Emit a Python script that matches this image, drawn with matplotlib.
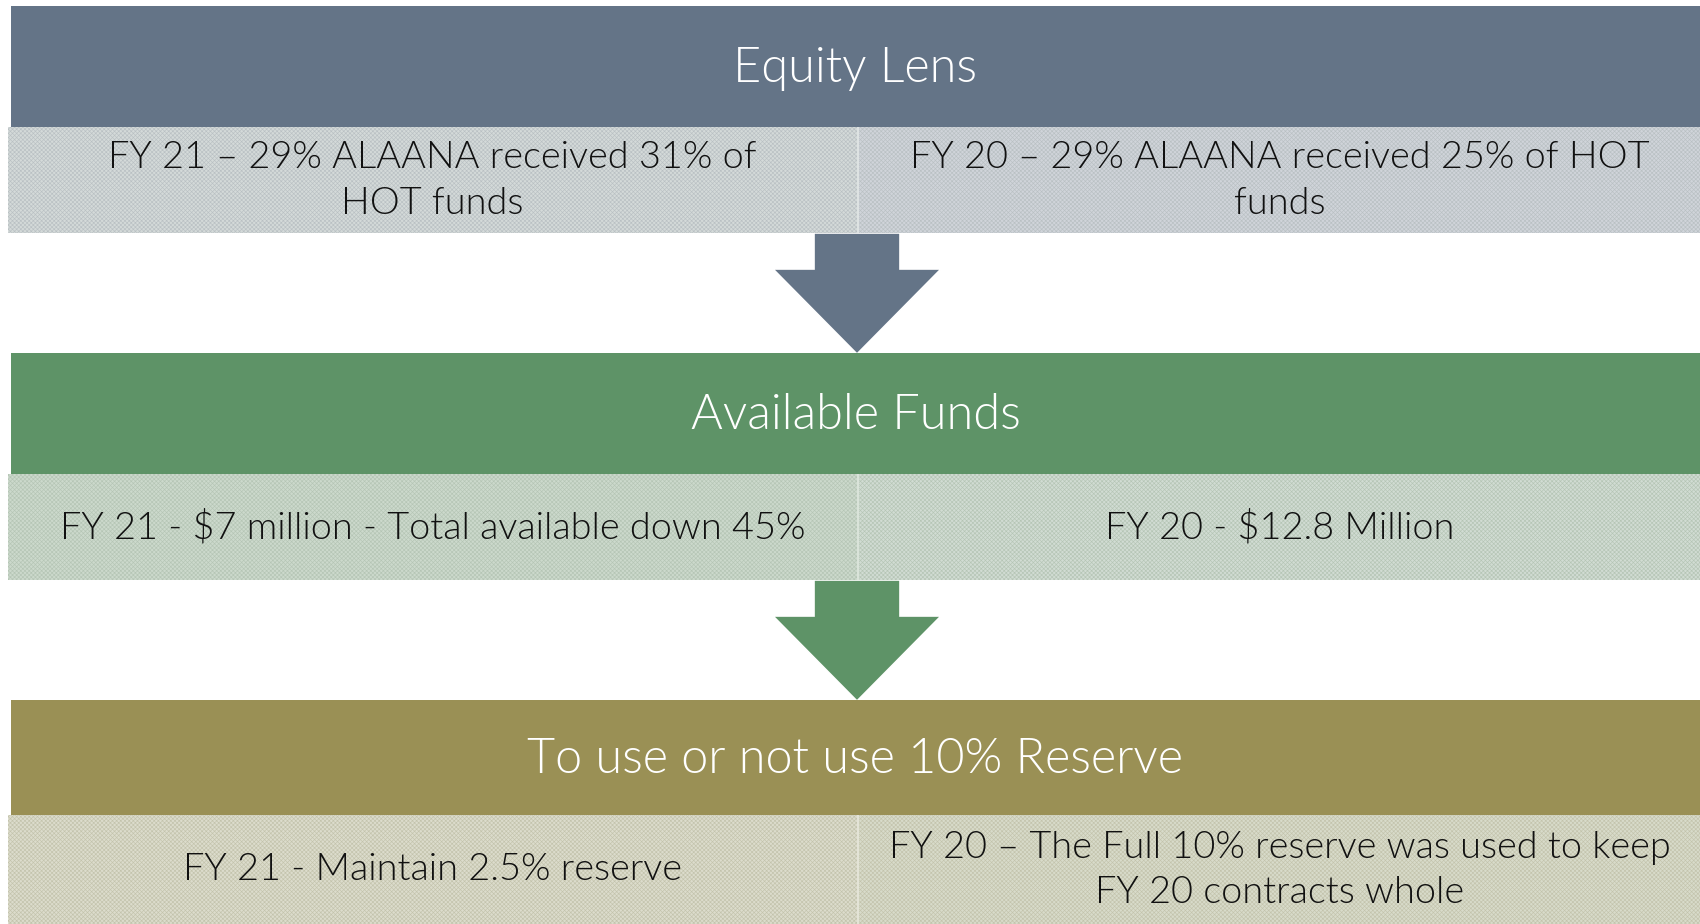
import matplotlib
matplotlib.use("Agg")
import matplotlib.pyplot as plt
from matplotlib.patches import Rectangle, Polygon

# ---- content ----
headers = ["Equity Lens", "Available Funds", "To use or not use 10% Reserve"]
left_texts = ["FY 21 \u2013 29% ALAANA received 31% of\nHOT funds",
              "FY 21 - $7 million - Total available down 45%",
              "FY 21 - Maintain 2.5% reserve"]
right_texts = ["FY 20 \u2013 29% ALAANA received 25% of HOT\nfunds",
               "FY 20 - $12.8 Million",
               "FY 20 \u2013 The Full 10% reserve was used to keep\nFY 20 contracts whole"]

# ---- styles ----
header_colors = ["#647487", "#5E9367", "#9A9055"]
left_fill = ["#D4DAD9", "#CCD9CC", "#DCDCCC"]
right_fill = ["#D0D4DA", "#D1DCD3", "#D8DBCA"]
hatch_colors = ["#B9C0C3", "#B5C5B5", "#C3C3AC"]
divider_colors = ["#DDE2E2", "#D9E3D9", "#E3E3D6"]

W, H = 1700, 924
fig = plt.figure(figsize=(17, 9.24), dpi=100)
ax = fig.add_axes([0, 0, 1, 1])
ax.set_xlim(0, W)
ax.set_ylim(H, 0)
ax.axis("off")

plt.rcParams['hatch.linewidth'] = 0.45
font = ["Lato", "DejaVu Sans"]

# layout: (header_top, header_bottom, sub_bottom)
rows = [(6, 127, 233), (353, 474, 580), (700, 815, 924)]
hx0 = 11
sx0 = 8
divider = 857

for i, (ht, hb, sb) in enumerate(rows):
    ax.add_patch(Rectangle((hx0, ht), W - hx0, hb - ht, facecolor=header_colors[i],
                           edgecolor="none", zorder=2))
    ax.text((hx0 + W) / 2, (ht + hb) / 2 + 2, headers[i], ha="center", va="center",
            color="white", fontsize=35, family=font, fontweight=300, zorder=5)
    # sub cells
    for x0, x1, fc, txt in [(sx0, divider, left_fill[i], left_texts[i]),
                             (divider + 2, W, right_fill[i], right_texts[i])]:
        ax.add_patch(Rectangle((x0, hb), x1 - x0, sb - hb, facecolor=fc,
                               edgecolor="none", zorder=2))
        ax.add_patch(Rectangle((x0, hb), x1 - x0, sb - hb, facecolor="none",
                               edgecolor=hatch_colors[i], hatch="xxxxxxxx", linewidth=0, zorder=3))
        ax.text((x0 + x1) / 2, (hb + sb) / 2 + 1, txt, ha="center", va="center",
                color="#111111", fontsize=27.3, family=font, fontweight=300,
                linespacing=1.43, zorder=5)
    ax.add_patch(Rectangle((divider, hb), 2, sb - hb, facecolor=divider_colors[i],
                           edgecolor="none", zorder=4))

# arrows between rows
for i in range(2):
    top = rows[i][2]
    bottom = rows[i + 1][0]
    cx = 857
    stem_half = 43
    head_half = 84
    head_y = top + 36
    pts = [(cx - stem_half, top), (cx + stem_half, top), (cx + stem_half, head_y),
           (cx + head_half, head_y), (cx, bottom + 1), (cx - head_half, head_y),
           (cx - stem_half, head_y)]
    ax.add_patch(Polygon(pts, closed=True, facecolor=header_colors[i],
                         edgecolor="white", linewidth=1.2, zorder=1))

fig.savefig("out.png", dpi=100, facecolor="white")
